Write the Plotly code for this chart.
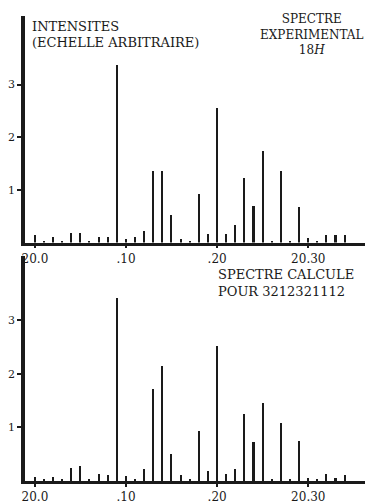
import plotly.graph_objects as go

# Positions (ppm-like scale), 20.00 .. 20.34
positions = [20.00, 20.01, 20.02, 20.03, 20.04, 20.05, 20.06, 20.07, 20.08, 20.09,
             20.10, 20.11, 20.12, 20.13, 20.14, 20.15, 20.16, 20.17, 20.18, 20.19,
             20.20, 20.21, 20.22, 20.23, 20.24, 20.25, 20.26, 20.27, 20.28, 20.29,
             20.30, 20.31, 20.32, 20.33, 20.34]

experimental = [0.15, 0.03, 0.10, 0.03, 0.18, 0.18, 0.03, 0.10, 0.10, 3.38,
                0.07, 0.10, 0.22, 1.36, 1.36, 0.52, 0.07, 0.03, 0.92, 0.17,
                2.55, 0.16, 0.33, 1.22, 0.70, 1.74, 0.03, 1.36, 0.03, 0.68,
                0.08, 0.03, 0.15, 0.15, 0.15]

calculated = [0.07, 0.03, 0.07, 0.03, 0.24, 0.28, 0.03, 0.13, 0.10, 3.40,
              0.08, 0.03, 0.22, 1.70, 2.13, 0.50, 0.10, 0.03, 0.92, 0.18,
              2.50, 0.12, 0.22, 1.25, 0.72, 1.45, 0.03, 1.08, 0.03, 0.74,
              0.05, 0.03, 0.13, 0.05, 0.11]

x_tickvals = [20.0, 20.1, 20.2, 20.3]
x_ticktext = ["20.0", ".10", ".20", "20.30"]
y_tickvals = [1, 2, 3]
y_ticktext = ["1", "2", "3"]

INK = "#1a1a1a"
PAPER = "#ffffff"
FONT = "DejaVu Serif"

# page has an 8px body margin: figure is offset by 8px, so size it to fit the window
OFF = 8
W, H = 373 - OFF, 504 - OFF

def px_x(x):
    return (x - OFF) / W

def px_y(y):
    return 1 - (y - OFF) / H

fig = go.Figure()
fig.add_trace(go.Bar(x=positions, y=experimental, width=0.0017,
                     marker=dict(color=INK, line=dict(width=0)),
                     xaxis="x", yaxis="y", showlegend=False))
fig.add_trace(go.Bar(x=positions, y=calculated, width=0.0017,
                     marker=dict(color=INK, line=dict(width=0)),
                     xaxis="x2", yaxis="y2", showlegend=False))

xr = [19.989, 20.371]
xdom = [px_x(22), 1]

def xaxis(anchor):
    return dict(domain=xdom, range=xr, anchor=anchor, showgrid=False, zeroline=False,
                showline=True, linecolor=INK, linewidth=2.5,
                tickmode="array", tickvals=x_tickvals, ticktext=x_ticktext,
                ticks="outside", ticklen=3, tickwidth=1.5, tickcolor=INK,
                tickfont=dict(family=FONT, size=12, color=INK))

def yaxis(anchor, dom, rng):
    return dict(domain=dom, range=rng, anchor=anchor, showgrid=False, zeroline=False,
                showline=True, linecolor=INK, linewidth=3.5,
                tickmode="array", tickvals=y_tickvals, ticktext=y_ticktext,
                ticks="outside", ticklen=4, tickwidth=1.5, tickcolor=INK,
                tickfont=dict(family=FONT, size=11, color=INK))

fig.update_layout(
    width=W, height=H,
    margin=dict(l=0, r=0, t=0, b=0),
    paper_bgcolor=PAPER, plot_bgcolor=PAPER,
    bargap=0,
    xaxis=xaxis("y"),
    yaxis=yaxis("x", [px_y(244), px_y(16)], [0, (244 - 16) / 53]),
    xaxis2=xaxis("y2"),
    yaxis2=yaxis("x2", [px_y(484), px_y(258)], [0, (484 - 258) / 54]),
    font=dict(family=FONT, color=INK),
)

def note(text, x, y, xanchor="left", size=13, align="left"):
    fig.add_annotation(text=text, x=px_x(x), y=px_y(y), xref="paper", yref="paper",
                       xanchor=xanchor, yanchor="middle", showarrow=False, align=align,
                       font=dict(family=FONT, size=size, color=INK))

note("INTENSITES", 27, 27)
note("(ECHELLE ARBITRAIRE)", 27, 43)
note("SPECTRE<br>EXPERIMENTAL<br>18<i>H</i>", 311, 35, xanchor="center", align="center", size=12)
note("SPECTRE CALCULE<br>POUR 3212321112", 215, 285)

fig.write_html("out.html")
